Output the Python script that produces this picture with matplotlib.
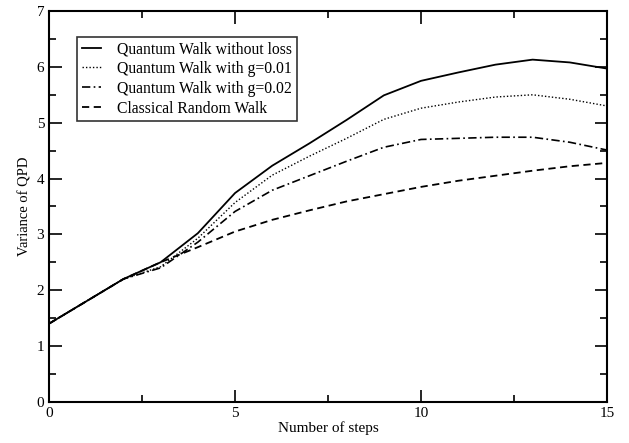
import matplotlib
matplotlib.use("Agg")
from matplotlib import pyplot as plt
from matplotlib.ticker import MultipleLocator

plt.rcParams['font.family'] = ['Liberation Serif', 'DejaVu Serif']

steps = list(range(16))
qw_no_loss = [1.40, 1.80, 2.20, 2.50, 3.02, 3.74, 4.23, 4.63, 5.05, 5.49, 5.75, 5.90, 6.04, 6.13, 6.08, 5.97]
qw_g001 = [1.40, 1.80, 2.20, 2.42, 2.93, 3.57, 4.06, 4.40, 4.72, 5.06, 5.26, 5.37, 5.46, 5.50, 5.42, 5.30]
qw_g002 = [1.40, 1.80, 2.20, 2.40, 2.86, 3.41, 3.79, 4.05, 4.31, 4.56, 4.70, 4.72, 4.74, 4.74, 4.65, 4.51]
classical = [1.40, 1.80, 2.20, 2.50, 2.77, 3.05, 3.26, 3.43, 3.59, 3.72, 3.85, 3.96, 4.05, 4.14, 4.22, 4.28]

labels = ['Quantum Walk without loss', 'Quantum Walk with g=0.01',
          'Quantum Walk with g=0.02', 'Classical Random Walk']

fig = plt.figure(figsize=(6.29, 4.43), dpi=100)
ax = fig.add_axes([0.078, 0.093, 0.887, 0.882])

ax.plot(steps, qw_no_loss, color='black', lw=1.3, linestyle='-', label=labels[0])
ax.plot(steps, qw_g001, color='black', lw=1.0, linestyle=(0, (1, 1.5)), label=labels[1])
ax.plot(steps, qw_g002, color='black', lw=1.2, linestyle=(0, (5, 2, 1, 2)), label=labels[2])
ax.plot(steps, classical, color='black', lw=1.3, linestyle=(0, (4, 2.5)), label=labels[3])

ax.set_xlim(0, 15)
ax.set_ylim(0, 7)
ax.xaxis.set_major_locator(MultipleLocator(5))
ax.xaxis.set_minor_locator(MultipleLocator(2.5))
ax.yaxis.set_major_locator(MultipleLocator(1))
ax.yaxis.set_minor_locator(MultipleLocator(0.5))
ax.tick_params(which='both', direction='in', top=True, right=True, labelsize=11, width=1.2)
ax.tick_params(which='major', length=9)
ax.tick_params(which='minor', length=5)
for s in ax.spines.values():
    s.set_linewidth(1.5)

ax.set_xlabel('Number of steps', fontsize=11, labelpad=1)
ax.set_ylabel('Variance of QPD', fontsize=10.5, labelpad=4)

# legend box sits inside the upper left corner
leg = ax.legend(loc='upper left', bbox_to_anchor=(0.036, 0.955), fontsize=11.3,
                frameon=True, fancybox=False, edgecolor='black', handlelength=1.2,
                borderpad=0.3, labelspacing=0.24, handletextpad=1.05)
leg.get_frame().set_linewidth(1.2)

fig.savefig('out.png', dpi=100)
